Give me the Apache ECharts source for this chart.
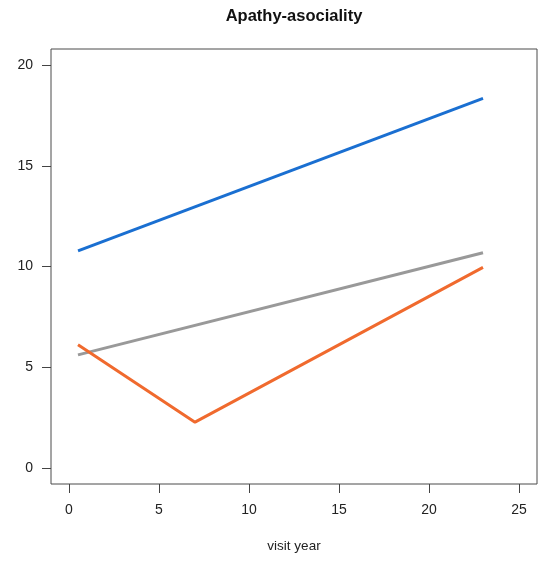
<!DOCTYPE html>
<html>
<head>
<meta charset="utf-8">
<script src="https://cdn.jsdelivr.net/npm/echarts@6/dist/echarts.min.js"></script>
<style>html,body{margin:0;padding:0;background:#fff}#c{width:543px;height:561px}</style>
</head>
<body>
<div id="c"></div>
<script>
const titleText = "Apathy-asociality";
const xName = "visit year";
const xTicks = [0, 5, 10, 15, 20, 25];
const yTicks = [0, 5, 10, 15, 20];
const xTwo = [0.5, 23];
const blueY = [10.78, 18.35];
const grayY = [5.61, 10.68];
const orangeX = [0.5, 7, 23];
const orangeY = [6.11, 2.27, 9.96];

const pairs = (xs, ys) => xs.map((x, i) => [x, ys[i]]);
const FONT = "'Liberation Sans', Arial, sans-serif";

const chart = echarts.init(document.getElementById('c'), null, {renderer: 'canvas'});
chart.setOption({
  animation: false,
  backgroundColor: '#fff',
  graphic: [{
    type: 'text', x: 294, y: 8,
    style: {text: titleText, font: "bold 16.5px " + FONT, fill: '#111', textAlign: 'center', textVerticalAlign: 'top'}
  }],
  grid: {left: 51, right: 6, top: 49, bottom: 77, show: true, borderColor: '#4a4a4a', borderWidth: 1, containLabel: false},
  xAxis: {
    type: 'value', min: -1, max: 26,
    name: xName, nameLocation: 'middle', nameGap: 55,
    nameTextStyle: {color: '#222', fontSize: 13.5, fontFamily: FONT},
    axisLine: {show: false, onZero: false},
    splitLine: {show: false},
    axisTick: {show: true, length: 9, inside: false, customValues: xTicks, lineStyle: {color: '#444'}},
    axisLabel: {customValues: xTicks, color: '#222', fontSize: 14, fontFamily: FONT, margin: 19}
  },
  yAxis: {
    type: 'value', min: -0.8, max: 20.8,
    axisLine: {show: false, onZero: false},
    splitLine: {show: false},
    axisTick: {show: true, length: 9, inside: false, customValues: yTicks, lineStyle: {color: '#444'}},
    axisLabel: {customValues: yTicks, color: '#222', fontSize: 14, fontFamily: FONT, margin: 18}
  },
  series: [
    {type: 'line', data: pairs(xTwo, blueY), showSymbol: false, lineStyle: {color: '#1a6fd1', width: 3}},
    {type: 'line', data: pairs(xTwo, grayY), showSymbol: false, lineStyle: {color: '#999999', width: 3}},
    {type: 'line', data: pairs(orangeX, orangeY), showSymbol: false, lineStyle: {color: '#f06a2e', width: 3}}
  ]
});
</script>
</body>
</html>
